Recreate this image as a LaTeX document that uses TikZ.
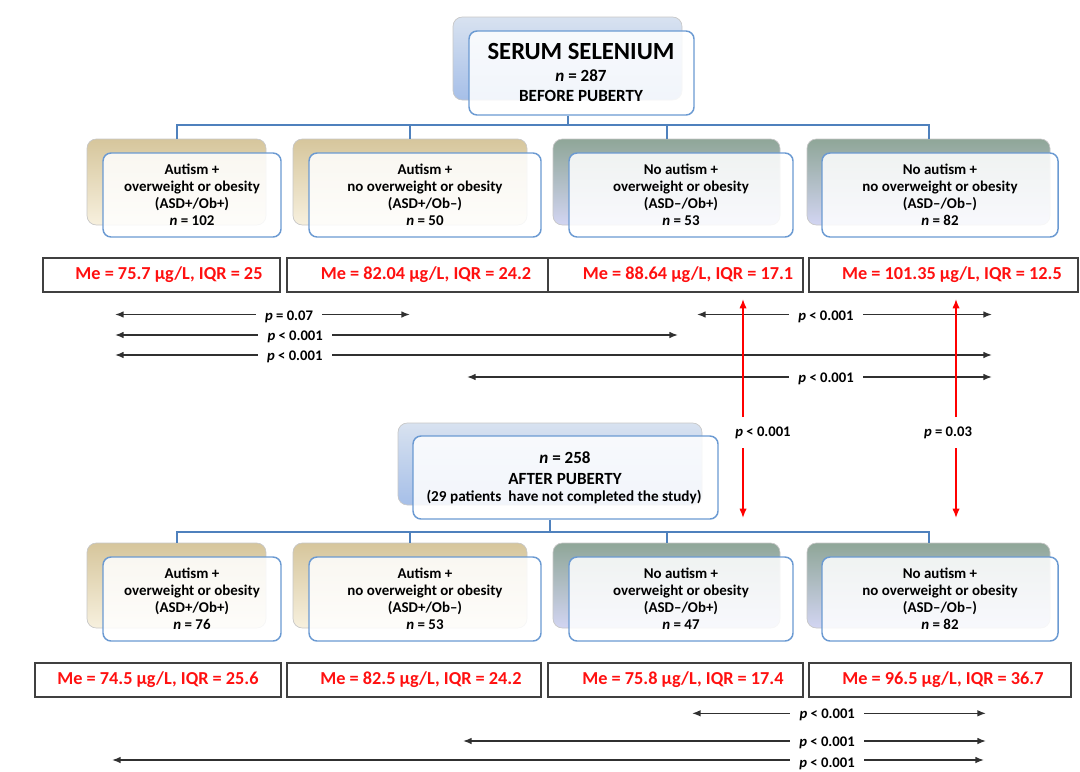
\documentclass[tikz,border=0pt]{standalone}
\usepackage{fontspec}
\setmainfont{Carlito}
\usetikzlibrary{arrows.meta,calc}
\definecolor{connblue}{HTML}{4F81BD}
\definecolor{frontblue}{HTML}{6B9AD2}
\definecolor{tanA}{HTML}{D6C69C}
\definecolor{tanB}{HTML}{F7F0DE}
\definecolor{grnA}{HTML}{8FA698}
\definecolor{lavB}{HTML}{D2D5F2}
\definecolor{bluA}{HTML}{D8E2F0}
\definecolor{bluB}{HTML}{A6BFE8}
\definecolor{medred}{HTML}{FF1010}
\definecolor{boxgray}{HTML}{404040}
\definecolor{arrgray}{HTML}{303030}
\begin{document}
\begin{tikzpicture}[x=0.75pt,y=-0.75pt,
  sz/.style 2 args={minimum width=#1*0.75pt, minimum height=#2*0.75pt},
  backbox/.style={rectangle, rounded corners=7pt, draw=black!22, line width=0.5pt, inner sep=0pt},
  tanbox/.style={backbox, top color=tanA, bottom color=tanB},
  grnbox/.style={backbox, top color=grnA, bottom color=lavB},
  blubox/.style={backbox, top color=bluA, bottom color=bluB},
  frontbox/.style={rectangle, rounded corners=6pt, draw=frontblue, line width=1.1pt, fill=white, fill opacity=0.85, text opacity=1, align=center, inner sep=0pt, font=\fontsize{11.2}{12.75}\selectfont\bfseries},
  medbox/.style={rectangle, draw=boxgray, line width=1.1pt, inner sep=0pt},
  medtxt/.style={text=medred, font=\fontsize{13.7}{16}\selectfont\bfseries, inner sep=0pt},
  headtxt/.style={anchor=base, inner sep=0pt, font=\fontsize{18.5}{22}\selectfont\bfseries},
  subtxt/.style={anchor=base, inner sep=0pt, font=\fontsize{12.8}{15}\selectfont\bfseries},
  smalltxt/.style={anchor=base, inner sep=0pt, font=\fontsize{11.4}{14}\selectfont\bfseries},
  conn/.style={draw=connblue, line width=1.5pt},
  blkarr/.style={draw=arrgray, line width=1.1pt, {Latex[length=6.5pt,width=5pt]}-{Latex[length=6.5pt,width=5pt]}},
  redarr/.style={draw=red, line width=1.1pt, -{Latex[length=7pt,width=5.5pt]}},
  plbl/.style={fill=white, inner xsep=7pt, inner ysep=1pt, yshift=-1.5pt, font=\fontsize{11}{13}\selectfont\bfseries, text=black},
  rlbl/.style={inner sep=0pt, font=\fontsize{11}{13}\selectfont\bfseries, text=black}
]
\useasboundingbox (0,0) rectangle (1080,771);

% ---------- top box ----------
\node[blubox, sz={229}{83}] (tback) at (567.5,58.5) {};
\node[frontbox, sz={225}{84}] (tfront) at (581.5,73) {};
\node[headtxt] (t1) at (581,59.5) {SERUM SELENIUM};
\node[subtxt] (t2) at (581,81.5) {\textit{n} = 287};
\node[subtxt] (t3) at (581,101.5) {BEFORE PUBERTY};

% ---------- row 1 groups ----------
\node[tanbox, sz={179}{86}] (b1) at (176.5,182) {};
\node[frontbox, sz={178}{84}] (g1) at (192,195) {Autism +\\overweight or obesity\\(ASD+/Ob+)\\\textit{n} = 102};
\node[tanbox, sz={234}{86}] (b2) at (410,182) {};
\node[frontbox, sz={232}{84}] (g2) at (425,195) {Autism +\\no overweight or obesity\\(ASD+/Ob–)\\\textit{n} = 50};
\node[grnbox, sz={227}{86}] (b3) at (666.5,182) {};
\node[frontbox, sz={224}{84}] (g3) at (681,195) {No autism +\\overweight or obesity\\(ASD–/Ob+)\\\textit{n} = 53};
\node[grnbox, sz={243}{86}] (b4) at (928.5,182) {};
\node[frontbox, sz={236}{84}] (g4) at (940,195) {No autism +\\no overweight or obesity\\(ASD–/Ob–)\\\textit{n} = 82};

\coordinate (bus1) at (567,125);
\draw[conn] (tback |- tfront.south) -- (tback |- bus1);
\draw[conn] (b1.north) |- (bus1) -| (b4.north);
\draw[conn] (b2.north) -- (b2.north |- bus1);
\draw[conn] (b3.north) -- (b3.north |- bus1);

% ---------- row 1 medians ----------
\node[medbox, sz={237}{34}] (m1) at (161.5,275) {};
\node[medbox, sz={261}{34}] (m2) at (417.5,275) {};
\node[medbox, sz={255}{34}] (m3) at (675.5,275) {};
\node[medbox, sz={269}{34}] (m4) at (943.5,275) {};
\node[medtxt] (mt1) at (169,275) {Me = 75.7 µg/L, IQR = 25};
\node[medtxt] (mt2) at (426,275) {Me = 82.04 µg/L, IQR = 24.2};
\node[medtxt] (mt3) at (688,275) {Me = 88.64 µg/L, IQR = 17.1};
\node[medtxt] (mt4) at (952,275) {Me = 101.35 µg/L, IQR = 12.5};

% ---------- comparisons before puberty ----------
\coordinate (aL) at (115,314.5); \coordinate (aR) at (410,314.5);
\coordinate (bL) at (115,335);   \coordinate (bR) at (678,335);
\coordinate (cL) at (115,355);   \coordinate (cR) at (992,355);
\coordinate (dL) at (697,314.5); \coordinate (dR) at (992,314.5);
\coordinate (eL) at (467,377);   \coordinate (eR) at (992,377);
\draw[blkarr] (aL) -- (aR) node[plbl, pos=0.59] (pa) {\textit{p} = 0.07};
\draw[blkarr] (bL) -- (bR) node[plbl, pos=0.32] (pb) {\textit{p} < 0.001};
\draw[blkarr] (cL) -- (cR) node[plbl, pos=0.205] (pc) {\textit{p} < 0.001};
\draw[blkarr] (dL) -- (dR) node[plbl, pos=0.437] (pd) {\textit{p} < 0.001};
\draw[blkarr] (eL) -- (eR) node[plbl, pos=0.684] (pe) {\textit{p} < 0.001};

% ---------- red before/after arrows ----------
\coordinate (r1t) at (743,299); \coordinate (r1m) at (743,417);
\coordinate (r1n) at (743,448); \coordinate (r1b) at (743,518);
\coordinate (r2t) at (956,299); \coordinate (r2m) at (956,417);
\coordinate (r2n) at (956,448); \coordinate (r2b) at (956,518);
\draw[redarr] (r1m) -- (r1t);
\draw[redarr] (r1n) -- (r1b);
\draw[redarr] (r2m) -- (r2t);
\draw[redarr] (r2n) -- (r2b);
\node[rlbl] (pr1) at (763,433) {\textit{p} < 0.001};
\node[rlbl] (pr2) at (948,433) {\textit{p} = 0.03};

% ---------- middle box ----------
\node[blubox, sz={304}{82}] (mback) at (550,464) {};
\node[frontbox, sz={305}{83}] (mfront) at (565.5,477.5) {};
\node[subtxt] (u1) at (565,463.3) {\textit{n} = 258};
\node[subtxt] (u2) at (565,484) {AFTER PUBERTY};
\node[smalltxt] (u3) at (564,501.7) {(29 patients\ \ have not completed the study)};

% ---------- row 2 groups ----------
\node[tanbox, sz={179}{85}] (c1) at (176.5,585.5) {};
\node[frontbox, sz={178}{84}] (h1) at (192,599) {Autism +\\overweight or obesity\\(ASD+/Ob+)\\\textit{n} = 76};
\node[tanbox, sz={234}{85}] (c2) at (410,585.5) {};
\node[frontbox, sz={232}{84}] (h2) at (425,599) {Autism +\\no overweight or obesity\\(ASD+/Ob–)\\\textit{n} = 53};
\node[grnbox, sz={227}{85}] (c3) at (666.5,585.5) {};
\node[frontbox, sz={224}{84}] (h3) at (681,599) {No autism +\\overweight or obesity\\(ASD–/Ob+)\\\textit{n} = 47};
\node[grnbox, sz={243}{85}] (c4) at (928.5,585.5) {};
\node[frontbox, sz={236}{84}] (h4) at (940,599) {No autism +\\no overweight or obesity\\(ASD–/Ob–)\\\textit{n} = 82};

\coordinate (bus2) at (550,532);
\draw[conn] (mback |- mfront.south) -- (mback |- bus2);
\draw[conn] (c1.north) |- (bus2) -| (c4.north);
\draw[conn] (c2.north) -- (c2.north |- bus2);
\draw[conn] (c3.north) -- (c3.north |- bus2);

% ---------- row 2 medians ----------
\node[medbox, sz={246}{34}] (n1) at (158,680) {};
\node[medbox, sz={254}{34}] (n2) at (414,680) {};
\node[medbox, sz={255}{34}] (n3) at (675.5,680) {};
\node[medbox, sz={262}{34}] (n4) at (940,680) {};
\node[medtxt] (nt1) at (158,680) {Me = 74.5 µg/L, IQR = 25.6};
\node[medtxt] (nt2) at (421,680) {Me = 82.5 µg/L, IQR = 24.2};
\node[medtxt] (nt3) at (683,680) {Me = 75.8 µg/L, IQR = 17.4};
\node[medtxt] (nt4) at (943,680) {Me = 96.5 µg/L, IQR = 36.7};

% ---------- comparisons after puberty ----------
\coordinate (fL) at (692,713.3); \coordinate (fR) at (986,713.3);
\coordinate (gL) at (463,741);   \coordinate (gR) at (986,741);
\coordinate (hL) at (112,760);   \coordinate (hR) at (984,760);
\draw[blkarr] (fL) -- (fR) node[plbl, pos=0.46] (pf) {\textit{p} < 0.001};
\draw[blkarr] (gL) -- (gR) node[plbl, pos=0.696] (pg) {\textit{p} < 0.001};
\draw[blkarr] (hL) -- (hR) node[plbl, pos=0.82, yshift=-1.5pt] (ph) {\textit{p} < 0.001};
\end{tikzpicture}
\end{document}
